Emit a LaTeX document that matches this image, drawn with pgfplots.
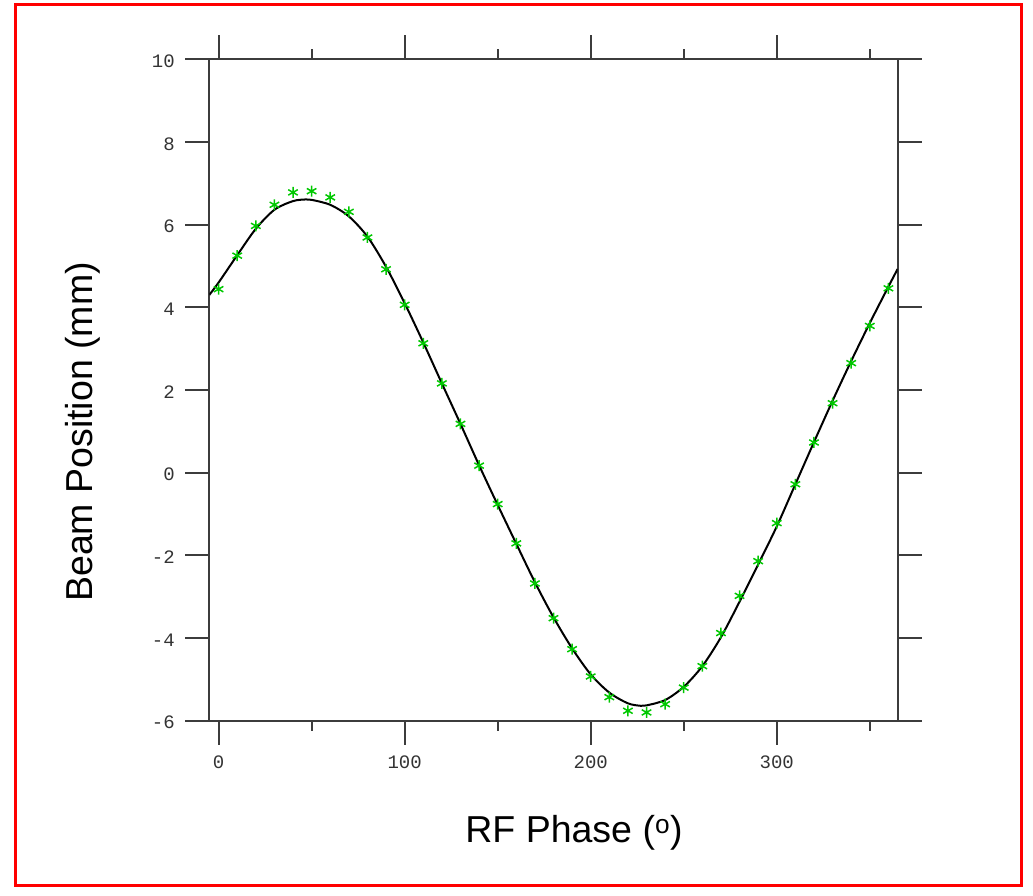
\documentclass[border=0pt]{standalone}
\usepackage{pgfplots}
\pgfplotsset{compat=1.18}
\usepackage{fontspec}
\setmainfont{Liberation Sans}
\newfontfamily\tickfont{Liberation Mono}
\definecolor{ptgreen}{RGB}{0,200,0}
\definecolor{axgray}{RGB}{60,60,60}
\begin{document}
\begin{tikzpicture}[x=1pt,y=1pt]
\useasboundingbox (0,0) rectangle (1033,895);
\draw[red, line width=3pt] (15,10) rectangle (1021,890);
\begin{axis}[
  at={(209.3pt,174.3pt)}, anchor=south west,
  scale only axis, width=688.4pt, height=661.4pt,
  xmin=-5, xmax=365, ymin=-6, ymax=10,
  xtick={0,100,200,300}, minor xtick={50,150,250,350},
  ytick={-6,-4,-2,0,2,4,6,8,10},
  tick align=outside,
  major tick length=24pt, minor tick length=10pt,
  axis line style={draw=axgray, line width=1.8pt},
  every tick/.style={draw=axgray, line width=1.8pt},
  xtick pos=both, ytick pos=both,
  xticklabel pos=lower, yticklabel pos=left,
  tick label style={font=\tickfont\fontsize{19}{19}\selectfont, text=black!80},
  xticklabel style={yshift=-8pt},
  yticklabel style={xshift=-7pt, yshift=-2pt},
  /pgf/number format/assume math mode=true,
  xlabel={RF Phase (\textsuperscript{o})},
  ylabel={Beam Position (mm)},
  every axis x label/.style={at={(axis description cs:0.5298,-0.18446)}, anchor=base, font=\fontsize{37.5}{40}\selectfont},
  every axis y label/.style={at={(axis description cs:-0.1694,0.4365)}, rotate=90, anchor=base, font=\fontsize{37.5}{40}\selectfont},
  clip=true,
]
\addplot[black, line width=2pt, smooth] coordinates {
(-5,4.30) (0,4.60) (10,5.26) (20,5.90) (30,6.36) (40,6.57) (47,6.61) (50,6.60) (60,6.48) (70,6.20) (80,5.71) (90,4.98) (100,4.10) (110,3.15) (120,2.16) (130,1.18) (140,0.18) (150,-0.78) (160,-1.72) (170,-2.65) (180,-3.50) (190,-4.25) (200,-4.88) (210,-5.32) (220,-5.58) (227,-5.64) (230,-5.63) (240,-5.50) (250,-5.18) (260,-4.68) (270,-3.98) (280,-3.12) (290,-2.22) (300,-1.30) (310,-0.28) (320,0.74) (330,1.74) (340,2.70) (350,3.62) (360,4.50) (365,4.93)
};
\addplot[only marks, mark=asterisk, mark size=5.5pt, ptgreen, mark options={line width=1.5pt}] coordinates {
(0,4.44) (10,5.25) (20,5.97) (30,6.48) (40,6.78) (50,6.81) (60,6.66) (70,6.31) (80,5.69) (90,4.92) (100,4.06) (110,3.13) (120,2.16) (130,1.18) (140,0.17) (150,-0.76) (160,-1.71) (170,-2.68) (180,-3.52) (190,-4.27) (200,-4.93) (210,-5.43) (220,-5.76) (230,-5.80) (240,-5.60) (250,-5.20) (260,-4.68) (270,-3.88) (280,-2.98) (290,-2.14) (300,-1.22) (310,-0.28) (320,0.73) (330,1.68) (340,2.65) (350,3.55) (360,4.46)
};
\end{axis}
\end{tikzpicture}
\end{document}
